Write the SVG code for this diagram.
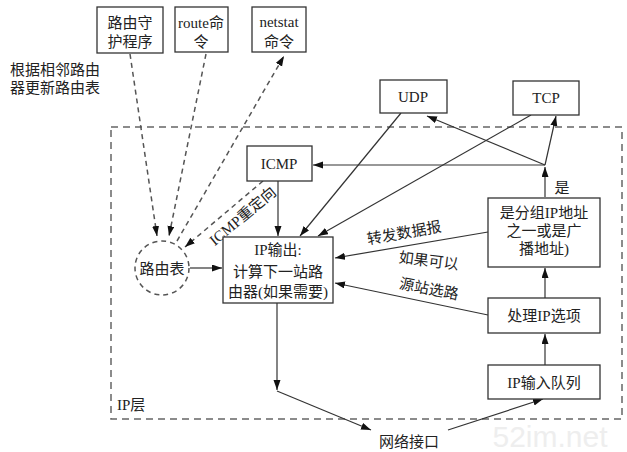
<svg xmlns="http://www.w3.org/2000/svg" width="627" height="452" viewBox="0 0 627 452">
<style>
.box{fill:#fff;stroke:#333;stroke-width:1.3}
.t{font-family:"Liberation Serif","Noto Sans CJK SC",serif;font-size:15px;fill:#222;text-anchor:middle}
.tl{font-family:"Liberation Serif","Noto Sans CJK SC",serif;font-size:15px;fill:#222}
.ln{stroke:#333;stroke-width:1.2;fill:none}
.dl{stroke:#555;stroke-width:1.5;stroke-dasharray:5 4;fill:none}
.layer{stroke:#666;stroke-width:1.5;stroke-dasharray:7 5;fill:none}
</style>
<defs>
<marker id="ah" markerUnits="userSpaceOnUse" markerWidth="11" markerHeight="8" refX="10" refY="3.5" orient="auto"><path d="M0,0 L10,3.5 L0,7 z" fill="#111"/></marker>
</defs>
<rect width="627" height="452" fill="#fff"/>
<text x="550" y="447" font-family="Liberation Sans, sans-serif" font-size="30" fill="#eeeeee" text-anchor="middle">52im.net</text>
<g id="ip-layer">
<rect class="layer" x="111" y="127" width="511" height="292"/>
<text class="tl" x="117" y="410">IP层</text>
</g>
<g id="connectors">
<line class="dl" x1="130" y1="54" x2="157" y2="236" marker-end="url(#ah)"/>
<line class="dl" x1="206" y1="54" x2="169" y2="236" marker-end="url(#ah)"/>
<line class="dl" x1="177" y1="241" x2="284" y2="56" marker-end="url(#ah)"/>
<line class="dl" x1="263" y1="181" x2="185" y2="247" marker-end="url(#ah)"/>
<line class="ln" x1="190" y1="268" x2="222" y2="268" marker-end="url(#ah)"/>
<line class="ln" x1="278" y1="181" x2="278" y2="236" marker-end="url(#ah)"/>
<line class="ln" x1="401" y1="113" x2="300" y2="236" marker-end="url(#ah)"/>
<line class="ln" x1="531" y1="115" x2="318" y2="236" marker-end="url(#ah)"/>
<line class="ln" x1="545" y1="197" x2="545" y2="167" marker-end="url(#ah)"/>
<line class="ln" x1="545" y1="165" x2="313" y2="165" marker-end="url(#ah)"/>
<line class="ln" x1="545" y1="165" x2="427" y2="116" marker-end="url(#ah)"/>
<line class="ln" x1="545" y1="165" x2="556" y2="116" marker-end="url(#ah)"/>
<line class="ln" x1="488" y1="232" x2="335" y2="258" marker-end="url(#ah)"/>
<line class="ln" x1="488" y1="315" x2="335" y2="283" marker-end="url(#ah)"/>
<line class="ln" x1="545" y1="298" x2="545" y2="268" marker-end="url(#ah)"/>
<line class="ln" x1="545" y1="365" x2="545" y2="334" marker-end="url(#ah)"/>
<line class="ln" x1="277" y1="303" x2="277" y2="390" marker-end="url(#ah)"/>
<line class="ln" x1="277" y1="391" x2="371" y2="430" marker-end="url(#ah)"/>
<line class="ln" x1="448" y1="430" x2="543" y2="399" marker-end="url(#ah)"/>
<text class="t" transform="translate(246,220) rotate(-40)">ICMP重定向</text>
<text class="t" transform="translate(405,238) rotate(-10)">转发数据报</text>
<text class="t" transform="translate(428,266) rotate(7)">如果可以</text>
<text class="t" transform="translate(428,294) rotate(11)">源站选路</text>
<text class="t" x="562" y="193">是</text>
</g>
<g id="daemon">
<rect class="box" x="97" y="7" width="66" height="46"/>
<text class="t" x="130" y="28">路由守</text>
<text class="t" x="130" y="47">护程序</text>
</g>
<g id="route-cmd">
<rect class="box" x="175" y="7" width="53" height="45"/>
<text class="t" x="201" y="28">route命</text>
<text class="t" x="201" y="47">令</text>
</g>
<g id="netstat-cmd">
<rect class="box" x="252" y="7" width="54" height="45"/>
<text class="t" x="279" y="27">netstat</text>
<text class="t" x="279" y="47">命令</text>
</g>
<g id="update-label">
<text class="tl" x="10" y="75">根据相邻路由</text>
<text class="tl" x="10" y="93">器更新路由表</text>
</g>
<g id="udp">
<rect class="box" x="380" y="80" width="67" height="33"/>
<text class="t" x="413" y="102">UDP</text>
</g>
<g id="tcp">
<rect class="box" x="513" y="81" width="66" height="34"/>
<text class="t" x="546" y="103">TCP</text>
</g>
<g id="icmp">
<rect class="box" x="247" y="146" width="65" height="35"/>
<text class="t" x="279" y="169">ICMP</text>
</g>
<g id="routing-table">
<circle cx="162" cy="268" r="27" fill="#fff" stroke="#555" stroke-width="1.5" stroke-dasharray="5 4"/>
<text class="t" x="162" y="274">路由表</text>
</g>
<g id="ip-output">
<rect class="box" x="223" y="237" width="110" height="66"/>
<text class="t" x="278" y="255">IP输出:</text>
<text class="t" x="278" y="277">计算下一站路</text>
<text class="t" x="278" y="297">由器(如果需要)</text>
</g>
<g id="is-mine">
<rect class="box" x="488" y="198" width="112" height="69"/>
<text class="t" x="544" y="218">是分组IP地址</text>
<text class="t" x="544" y="236">之一或是广</text>
<text class="t" x="544" y="254">播地址)</text>
</g>
<g id="ip-options">
<rect class="box" x="488" y="298" width="112" height="35"/>
<text class="t" x="544" y="321">处理IP选项</text>
</g>
<g id="ip-input-queue">
<rect class="box" x="488" y="365" width="112" height="34"/>
<text class="t" x="544" y="388">IP输入队列</text>
</g>
<g id="net-if">
<text class="t" x="409" y="447">网络接口</text>
</g>
</svg>
